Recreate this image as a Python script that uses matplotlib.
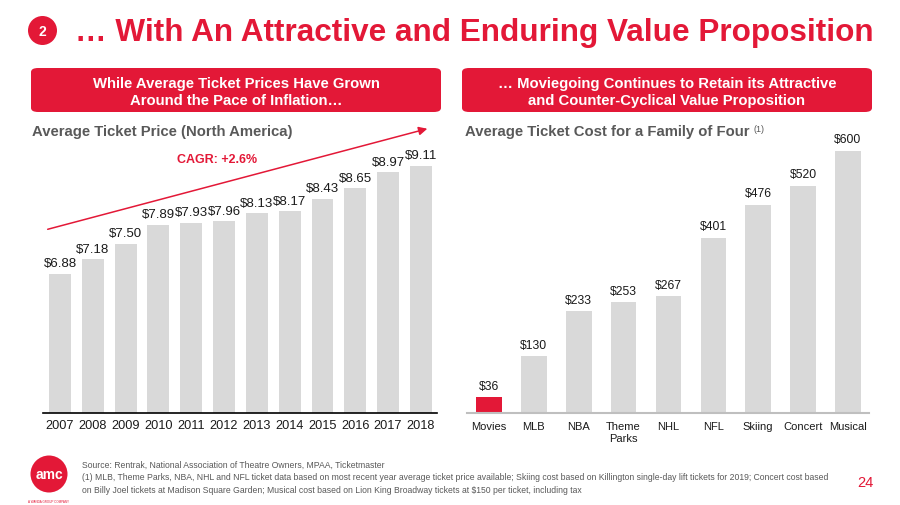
import matplotlib
matplotlib.use("Agg")
import matplotlib.pyplot as plt
from matplotlib.patches import FancyBboxPatch, Ellipse, FancyArrowPatch

plt.rcParams['font.family'] = ['Liberation Sans', 'DejaVu Sans']

# ---- data ----
years = ['2007', '2008', '2009', '2010', '2011', '2012', '2013', '2014', '2015', '2016', '2017', '2018']
ticket_price = [6.88, 7.18, 7.50, 7.89, 7.93, 7.96, 8.13, 8.17, 8.43, 8.65, 8.97, 9.11]

categories = ['Movies', 'MLB', 'NBA', 'Theme\nParks', 'NHL', 'NFL', 'Skiing', 'Concert', 'Musical']
family_cost = [36, 130, 233, 253, 267, 401, 476, 520, 600]

RED = '#e31837'
GRAY = '#d9d9d9'
W, H = 900, 506

fig = plt.figure(figsize=(9, 5.06), dpi=100)

def fx(x):
    return x / W

def fy(y):
    return 1 - y / H

# ---- title ----
fig.patches.append(Ellipse((fx(42.5), fy(31.5)), 29 / W, 29 / H, transform=fig.transFigure,
                           facecolor=RED, edgecolor='none'))
fig.text(fx(42.5), fy(32), '2', color='white', fontsize=10, fontweight='bold',
         ha='center', va='center')
fig.text(fx(75), fy(33), '\u2026 With An Attractive and Enduring Value Proposition',
         color=RED, fontsize=22.7, fontweight='bold', ha='left', va='center')

# ---- banners ----
def banner(x0, x1, text):
    fig.patches.append(FancyBboxPatch((fx(x0), fy(113)), fx(x1) - fx(x0), fy(69) - fy(113),
                                      boxstyle='round,pad=0,rounding_size=0.008',
                                      transform=fig.transFigure, facecolor=RED, edgecolor='none'))
    fig.text((fx(x0) + fx(x1)) / 2, fy(92.5), text, color='white', fontsize=10.7,
             fontweight='bold', ha='center', va='center', linespacing=1.3)

banner(31, 441, 'While Average Ticket Prices Have Grown\nAround the Pace of Inflation\u2026')
banner(462, 872, '\u2026 Moviegoing Continues to Retain its Attractive\nand Counter-Cyclical Value Proposition')

fig.text(fx(32), fy(132), 'Average Ticket Price (North America)', color='#595959',
         fontsize=10.7, fontweight='bold', ha='left', va='center')
fig.text(fx(465), fy(132), 'Average Ticket Cost for a Family of Four', color='#595959',
         fontsize=10.7, fontweight='bold', ha='left', va='center')
fig.text(fx(753), fy(129), '(1)', color='#595959', fontsize=6.5, ha='left', va='center')

# ---- left chart ----
axL = fig.add_axes([fx(43), fy(414), fx(437) - fx(43), fy(150) - fy(414)])
xs = list(range(len(years)))
axL.bar(xs, ticket_price, width=0.67, color=GRAY)
axL.set_ylim(4.0, 4.0 + 264 / 48.4)
axL.set_xlim(-0.52, 11.49)
for i, v in enumerate(ticket_price):
    axL.text(i, v + 0.09, '$%.2f' % v, ha='center', va='bottom', fontsize=9.5,
             color='#1a1a1a', parse_math=False)
axL.set_xticks(xs)
axL.set_xticklabels(years, fontsize=9.2, color='#1a1a1a')
axL.tick_params(axis='x', length=0, pad=4.5)
axL.set_yticks([])
for s in ['top', 'right', 'left']:
    axL.spines[s].set_visible(False)
axL.spines['bottom'].set_color('black')
axL.spines['bottom'].set_linewidth(1.2)
axL.patch.set_alpha(0)

# CAGR arrow
fig.add_artist(FancyArrowPatch((fx(45), fy(231)), (fx(430), fy(129)),
               transform=fig.transFigure, arrowstyle='-|>,head_length=5,head_width=2.5',
               color=RED, linewidth=1.1))
fig.text(fx(217), fy(160), 'CAGR: +2.6%', color=RED, fontsize=9, fontweight='bold',
         ha='center', va='center')

# ---- right chart ----
axR = fig.add_axes([fx(467), fy(414), fx(869) - fx(467), fy(130) - fy(414)])
xr = list(range(len(categories)))
colors = [RED] + [GRAY] * (len(categories) - 1)
axR.bar(xr, family_cost, width=0.57, color=colors)
axR.set_ylim(0, 650)
axR.set_xlim(-0.49, 8.47)
for i, v in enumerate(family_cost):
    axR.text(i, v + 13, '$%d' % v, ha='center', va='bottom', fontsize=8.7,
             color='#1a1a1a', parse_math=False)
axR.set_xticks(xr)
axR.set_xticklabels(categories, fontsize=8, color='#1a1a1a', linespacing=1.2, va='top')
axR.tick_params(axis='x', length=0, pad=6)
axR.set_yticks([])
for s in ['top', 'right', 'left']:
    axR.spines[s].set_visible(False)
axR.spines['bottom'].set_color('#bfbfbf')
axR.spines['bottom'].set_linewidth(1.5)
axR.patch.set_alpha(0)

# ---- footer ----
fig.patches.append(Ellipse((fx(49), fy(475)), 37 / W, 37 / H, transform=fig.transFigure,
                           facecolor=RED, edgecolor='none'))
fig.text(fx(49), fy(475), 'amc', color='white', fontsize=10, fontweight='bold',
         ha='center', va='center')
fig.text(fx(49), fy(502), 'A WANDA GROUP COMPANY', color=RED, fontsize=2.2,
         ha='center', va='center')

foot = ['Source: Rentrak, National Association of Theatre Owners, MPAA, Ticketmaster',
        '(1) MLB, Theme Parks, NBA, NHL and NFL ticket data based on most recent year average ticket price available; Skiing cost based on Killington single-day lift tickets for 2019; Concert cost based',
        'on Billy Joel tickets at Madison Square Garden; Musical cost based on Lion King Broadway tickets at $150 per ticket, including tax']
for k, line in enumerate(foot):
    fig.text(fx(82), fy(465 + 13 * k), line, color='#595959', fontsize=6.25,
             ha='left', va='center', parse_math=False)

fig.text(fx(865), fy(483), '24', color=RED, fontsize=10.5, ha='center', va='center')

fig.savefig('out.png', dpi=100)
